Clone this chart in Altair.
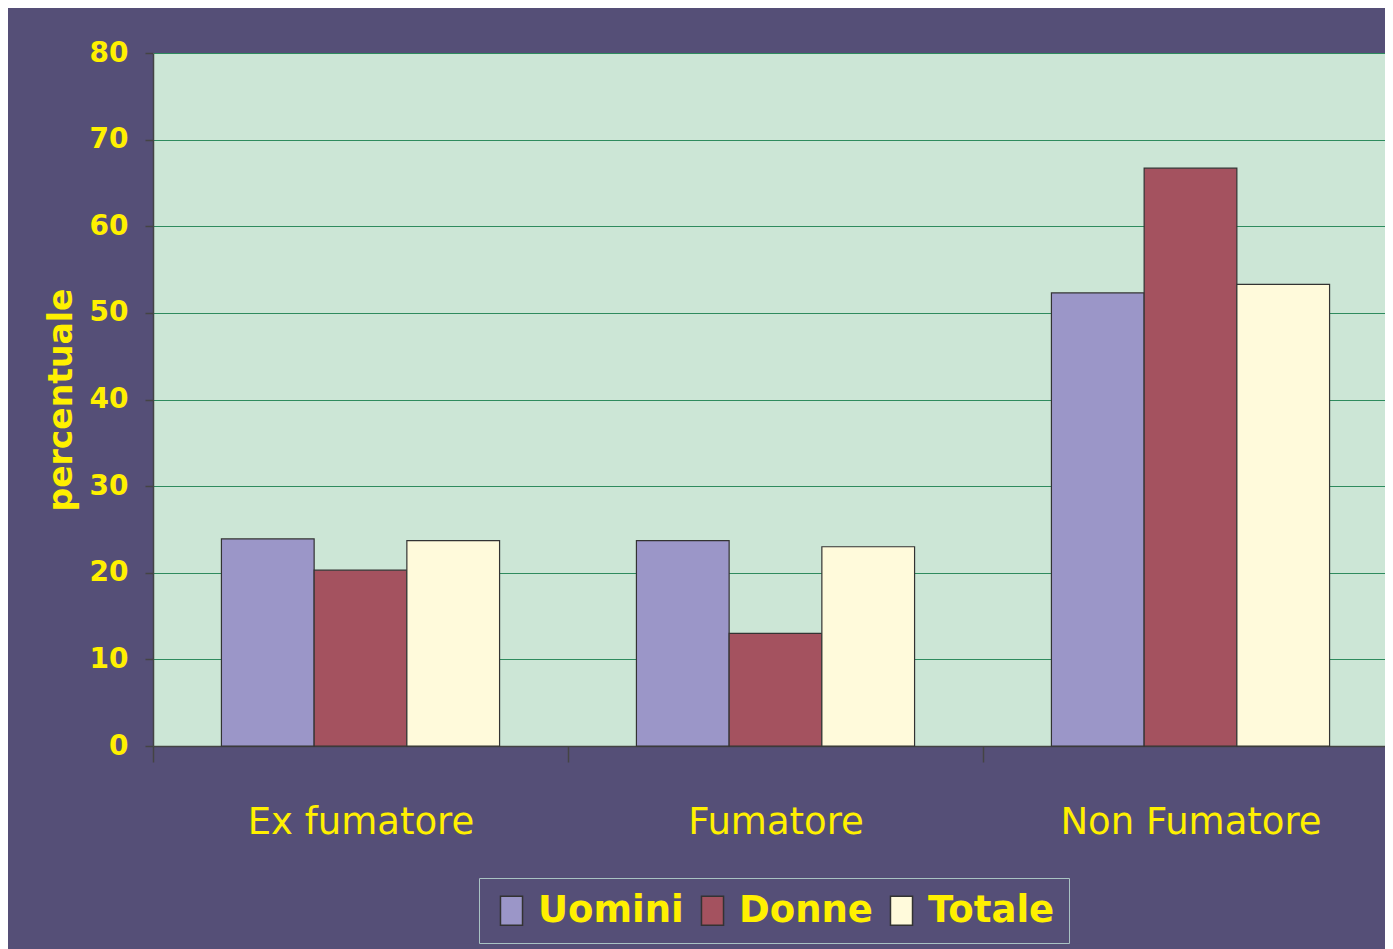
import altair as alt
import pandas as pd

categorie = ["Ex fumatore", "Fumatore", "Non Fumatore"]
serie = ["Uomini", "Donne", "Totale"]
uomini = [23.9, 23.7, 52.3]
donne = [20.3, 13.0, 66.7]
totale = [23.7, 23.0, 53.3]
y_ticks = [0, 10, 20, 30, 40, 50, 60, 70, 80]
colori = ["#9B96C8", "#A4525F", "#FFFADB"]

rows = []
for nome, valori in zip(serie, [uomini, donne, totale]):
    for c, v in zip(categorie, valori):
        rows.append({"categoria": c, "serie": nome, "valore": v})
df = pd.DataFrame(rows)

VIOLA = "#554F77"
GIALLO = "#FFF000"
FONT = "DejaVu Sans"

chart = alt.Chart(df).mark_bar(stroke="#333333", strokeWidth=1.2).encode(
    x=alt.X(
        "categoria:N",
        sort=categorie,
        scale=alt.Scale(range=[0, 1245], paddingInner=0, paddingOuter=0),
        axis=alt.Axis(
            title=None,
            labelAngle=0,
            labelLimit=0,
            labelFont=FONT,
            labelFontSize=37,
            labelFontWeight="normal",
            labelColor=GIALLO,
            labelPadding=42,
            domainColor="#444444",
            domainWidth=1.5,
            tickColor="#444444",
            tickWidth=1.5,
            tickSize=16,
            tickBand="extent",
            grid=False,
        ),
    ),
    xOffset=alt.XOffset(
        "serie:N", sort=serie,
        scale=alt.Scale(paddingInner=0, paddingOuter=0.738),
    ),
    y=alt.Y(
        "valore:Q",
        scale=alt.Scale(domain=[0, 80], nice=False),
        axis=alt.Axis(
            values=y_ticks,
            title="percentuale",
            titleFont=FONT,
            titleFontSize=33,
            titleFontWeight="bold",
            titleColor=GIALLO,
            titlePadding=11,
            labelFont=FONT,
            labelFontSize=28,
            labelFontWeight="bold",
            labelColor=GIALLO,
            labelPadding=17,
            domainColor="#444444",
            domainWidth=1.5,
            tickColor="#444444",
            tickWidth=1.5,
            tickSize=8,
            grid=True,
            gridColor="#2E8B5E",
            gridWidth=1.2,
        ),
    ),
    color=alt.Color(
        "serie:N",
        sort=serie,
        scale=alt.Scale(domain=serie, range=colori),
        legend=alt.Legend(
            title=None,
            orient="none",
            legendX=326,
            legendY=825,
            direction="horizontal",
            symbolType="M-0.76,-1H0.76V1H-0.76Z",
            symbolSize=841,
            symbolStrokeColor="#333333",
            symbolStrokeWidth=1.5,
            symbolOpacity=1,
            labelFont=FONT,
            labelFontSize=37,
            labelFontWeight="bold",
            labelColor=GIALLO,
            labelOffset=8,
            columnPadding=10,
            padding=14,
            fillColor=VIOLA,
            strokeColor="#A9C3C3",
        ),
    ),
).properties(
    width=1232,
    height=693,
    background=VIOLA,
    autosize=alt.AutoSizeParams(type="none"),
    padding={"left": 145, "top": 45, "right": 0, "bottom": 203},
).configure_view(
    fill="#CCE6D6",
    stroke=None,
)

chart.save("out.html", embed_options={"renderer": "svg", "actions": False})
